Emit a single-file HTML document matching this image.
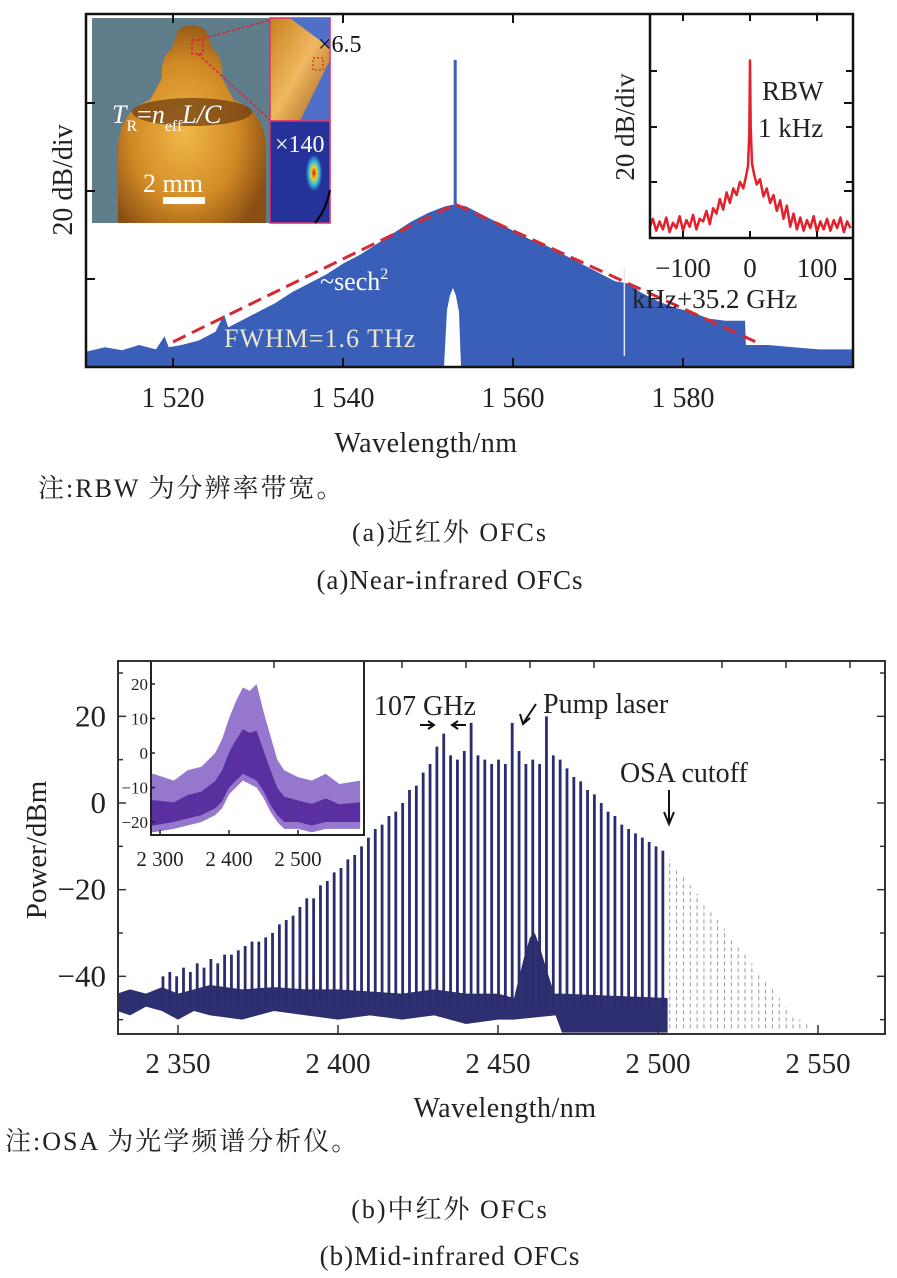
<!DOCTYPE html>
<html><head><meta charset="utf-8"><style>
html,body{margin:0;padding:0;background:#fff;}
svg{display:block;}
text{font-family:"Liberation Serif","Noto Serif CJK SC",serif;}
</style></head><body>
<svg id="fig" width="897" height="1278" viewBox="0 0 897 1278" xmlns="http://www.w3.org/2000/svg">
<defs>
<radialGradient id="gold" cx="0.45" cy="0.55" r="0.6"><stop offset="0" stop-color="#f2b84a"/><stop offset="0.6" stop-color="#d18a25"/><stop offset="1" stop-color="#8a4e14"/></radialGradient>
<radialGradient id="mode" cx="0.5" cy="0.5" r="0.5"><stop offset="0" stop-color="#d4141a"/><stop offset="0.35" stop-color="#f0d020"/><stop offset="0.65" stop-color="#30c0e0"/><stop offset="1" stop-color="#2a3aa0"/></radialGradient>
<linearGradient id="orng" x1="0" y1="0" x2="1" y2="1"><stop offset="0" stop-color="#c8801c"/><stop offset="0.5" stop-color="#f0b860"/><stop offset="1" stop-color="#9a5a18"/></linearGradient>
<clipPath id="topclip"><rect x="86" y="14" width="767" height="353"/></clipPath>
<clipPath id="botclip"><rect x="118" y="661" width="767" height="373"/></clipPath>
<clipPath id="inclip"><rect x="152" y="661" width="212" height="174"/></clipPath>
</defs>
<g id="top-chart"></g>
<g id="bot-chart"></g>
</svg>
<script>
// ---------- Top chart data ----------
const topXTicks = [1520, 1540, 1560, 1580];
const topXTickLabels = ["1 520", "1 540", "1 560", "1 580"];
const topYTicks = [20, 40, 60];
const specW = [1509.8,1512,1514,1516,1518,1519,1519.5,1521,1523,1525,1526,1526.5,1528,1530,1532,1534,1536,1538,1540,1542,1544,1546,1548,1550,1552,1553.2,1554.5,1556,1558,1560,1562,1564,1566,1568,1570,1572,1573.5,1575,1577,1579,1581,1583,1585,1587.3,1587.4,1590,1593,1596,1600.5];
const specDb = [3.5,4.5,3.8,5,4,7,4.5,5,6,8,12,9,10.5,12.5,14.5,17,19,21,23.5,25.5,28,30.5,33,35,36.5,37,36.5,35,33,31,29,27.5,25.5,23.5,21.5,19.5,19,17,15,13.5,12.5,11,10.5,10.5,5,5,4.5,4,4];
const spikeW = [1553.2];
const spikeDb = [69.8];
const fitW = [1520, 1553.2, 1588.8];
const fitDb = [5.7, 37, 5.5];
const insetXTicks = [-100, 0, 100];
const insetXTickLabels = ["\u2212100", "0", "100"];
const insetF = [-150,-145,-140,-135,-130,-125,-120,-115,-110,-105,-100,-95,-90,-85,-80,-75,-70,-65,-60,-55,-50,-45,-40,-35,-30,-25,-20,-15,-10,-6,-3,-1,0,1,3,6,10,15,20,25,30,35,40,45,50,55,60,65,70,75,80,85,90,95,100,105,110,115,120,125,130,135,140,145,150];
const insetDb = [3,10,1,8,2,11,0,7,3,12,1,9,4,13,2,10,8,16,6,18,14,25,17,30,22,33,28,38,33,42,50,75,130,80,52,44,36,40,27,33,22,28,16,24,10,20,4,14,2,11,1,9,3,12,0,8,2,10,1,9,3,11,0,8,3];

// ---------- Bottom chart data ----------
const botXTicks = [2350, 2400, 2450, 2500, 2550];
const botXTickLabels = ["2 350", "2 400", "2 450", "2 500", "2 550"];
const botYTicks = [20, 0, -20, -40];
const botYTickLabels = ["20", "0", "\u221220", "\u221240"];
const combStart = 2345.3;
const combSpacing = 2.14;
const combPeaks = [-40,-39,-40,-38,-39,-37,-38,-36,-37,-35,
 -35,-34,-33,-32,-32,-31,-30,-28,-27,-26,
 -24,-22,-22,-19,-18,-16,-15,-13,-12,-10,
 -8,-6,-5,-3,-2,0,3,4,7,9,
 13,16,11,10,12,18.5,11,10,9,10,
 9,18.5,12,9,10,9,20,11,10,8,
 6,5,3,2,0,-2,-3,-5,-6,-7,
 -8,-9,-10,-11];
const extraPeaks = [-13,-15,-17,-19,-21,-23,-25,-27,-29,-31,-33,-35,-37,-39,-41,-43,-45,-47,-49,-50,-51,-52,-52,-52];
const floorW = [2331,2335,2340,2345,2350,2355,2360,2370,2380,2390,2400,2410,2420,2430,2440,2450,2455,2468,2470,2503];
const floorTop = [-44,-43,-44,-42.5,-44,-43,-42,-43,-42.5,-43,-43,-43.5,-44,-43,-44,-44,-45,-44,-44,-45];
const floorBot = [-48,-49,-47,-48,-50,-48,-49,-50,-48,-49,-50,-49,-50,-49,-51,-50,-50,-49,-53,-53];
const pedW = [2455,2458,2460,2461.5,2463,2465,2468];
const pedDb = [-45,-36,-31,-30,-33,-38,-45];
const inXTicks = [2300, 2400, 2500];
const inXTickLabels = ["2 300", "2 400", "2 500"];
const inYTicks = [20, 10, 0, -10, -20];
const inYTickLabels = ["20", "10", "0", "\u221210", "\u221220"];
const inW = [2230,2260,2290,2320,2340,2360,2380,2390,2400,2410,2420,2430,2440,2450,2460,2470,2480,2500,2520,2540,2560,2590];
const inUpper = [-7,-9,-6,-8,-5,-4,0,4,10,15,19,18,20,12,5,-2,-5,-7,-8,-6,-9,-8];
const inLower = [-22,-22,-23,-22,-21,-20,-18,-16,-12,-10,-8,-9,-10,-13,-17,-20,-22,-22,-23,-22,-22,-22];

const NS = "http://www.w3.org/2000/svg";
const SERIF = '"Liberation Serif", "Noto Serif CJK SC", serif';
function mk(parent, tag, attrs) {
  const e = document.createElementNS(NS, tag);
  for (const k in attrs) e.setAttribute(k, attrs[k]);
  parent.appendChild(e);
  return e;
}
function txt(parent, x, y, s, size, extra) {
  const t = mk(parent, "text", Object.assign({x: x, y: y, "font-size": size, fill: "#222", "font-family": SERIF}, extra || {}));
  t.textContent = s;
  return t;
}

// ===== TOP =====
const T = document.getElementById("top-chart");
const tx = w => 173 + (w - 1520) * 8.5;
const ty = d => 367 - d * 4.4;
const ix = f => 750 + f * 0.67;
const iy = d => 232 - d * 1.32;

const plotT = mk(T, "g", {"clip-path": "url(#topclip)"});


let pts = specW.map((w, i) => tx(w) + "," + ty(specDb[i])).join(" ");
pts += " " + tx(1600.5) + ",367 " + tx(1509.8) + ",367";
const spec = mk(plotT, "polygon", {points: pts, fill: "#3a5fb8"});


spikeW.forEach((w, i) => {
  const s = mk(plotT, "line", {x1: tx(w), x2: tx(w), y1: ty(specDb[25]), y2: ty(spikeDb[i]), stroke: "#3a5fb8", "stroke-width": 3});
  
  
});
const wp = mk(plotT, "polygon", {points: "444,367 447,310 450,295 453,288 456,296 459,312 461,367", fill: "#fff"});


const wl = mk(plotT, "line", {x1: tx(1573.1), x2: tx(1573.1), y1: 268, y2: 356, stroke: "#dfe6f5", "stroke-width": 1.5});


const fit = mk(plotT, "polyline", {points: fitW.map((w, i) => tx(w) + "," + ty(fitDb[i])).join(" "), fill: "none", stroke: "#d42a35", "stroke-width": 3, "stroke-dasharray": "14,7"});


const l1 = txt(plotT, 320, 290, "", 26, {fill: "#fff"});


l1.innerHTML = '~sech<tspan font-size="16" dy="-11">2</tspan>';
const l2 = txt(plotT, 224, 347, "FWHM=1.6 THz", 26, {fill: "#ece7cf", "letter-spacing": "1"});



// photo inset
const ph = mk(T, "g", {});


mk(ph, "rect", {x: 92, y: 18, width: 178, height: 205, fill: "#5f7d8a"});
mk(ph, "path", {d: "M118,223 L118,150 Q118,112 150,100 L162,78 Q160,58 172,48 L178,30 Q192,20 206,30 L212,48 Q224,58 222,78 L234,100 Q266,112 266,150 L266,223 Z", fill: "url(#gold)"});
mk(ph, "ellipse", {cx: 192, cy: 112, rx: 60, ry: 14, fill: "#6b3a10", opacity: 0.7});
mk(ph, "rect", {x: 192, y: 40, width: 11, height: 14, fill: "none", stroke: "#e0203a", "stroke-width": 1.5, "stroke-dasharray": "3,2"});
mk(ph, "line", {x1: 198, y1: 40, x2: 270, y2: 20, stroke: "#e0203a", "stroke-width": 1.5, "stroke-dasharray": "3,2"});
mk(ph, "line", {x1: 198, y1: 54, x2: 270, y2: 120, stroke: "#e0203a", "stroke-width": 1.5, "stroke-dasharray": "3,2"});
const tr = txt(ph, 112, 123, "", 26, {fill: "#fff", "font-style": "italic"});


tr.innerHTML = 'T<tspan font-size="16" dy="8" font-style="normal">R</tspan><tspan dy="-8" font-style="normal">=</tspan>n<tspan font-size="16" dy="8" font-style="normal">eff</tspan><tspan dy="-8">L/C</tspan>';
const sm = txt(ph, 143, 192, "2 mm", 26, {fill: "#fff"});


mk(ph, "rect", {x: 163, y: 197, width: 42, height: 7, fill: "#fff"});
// subpanels
const sp1 = mk(T, "g", {});


mk(sp1, "rect", {x: 270, y: 18, width: 60, height: 103, fill: "url(#orng)", stroke: "#e0306a", "stroke-width": 1.5});
mk(sp1, "polygon", {points: "330,60 330,121 300,121", fill: "#4f6fc8"});
mk(sp1, "polygon", {points: "290,18 330,18 330,48", fill: "#4f6fc8"});
mk(sp1, "rect", {x: 313, y: 58, width: 10, height: 12, fill: "none", stroke: "#e0203a", "stroke-width": 1.2, "stroke-dasharray": "2,2"});
const x65 = txt(T, 318, 52, "\u00d76.5", 24, {fill: "#111"});


const sp2 = mk(T, "g", {});


mk(sp2, "rect", {x: 270, y: 121, width: 60, height: 102, fill: "#25329a", stroke: "#e0306a", "stroke-width": 1.5});
mk(sp2, "ellipse", {cx: 314, cy: 173, rx: 8, ry: 18, fill: "url(#mode)"});
mk(sp2, "path", {d: "M330,190 Q326,210 315,223", fill: "none", stroke: "#000", "stroke-width": 2});
const x140 = txt(T, 275, 152, "\u00d7140", 24, {fill: "#fff"});



// RBW inset
const RI = mk(T, "g", {});


mk(RI, "rect", {x: 650, y: 14, width: 203, height: 224, fill: "#fff"});
const red = mk(RI, "polyline", {points: insetF.map((f, i) => ix(f) + "," + iy(insetDb[i])).join(" "), fill: "none", stroke: "#e3202c", "stroke-width": 2.5, "stroke-linejoin": "round"});


mk(RI, "polyline", {points: "650,14 650,238 853,238", fill: "none", stroke: "#111", "stroke-width": 2.5});
insetXTicks.forEach((f, i) => {
  mk(RI, "line", {x1: ix(f), x2: ix(f), y1: 238, y2: 231, stroke: "#111", "stroke-width": 2});
  mk(RI, "line", {x1: ix(f), x2: ix(f), y1: 14, y2: 21, stroke: "#111", "stroke-width": 2});
  const t = txt(RI, ix(f), 277, insetXTickLabels[i], 27, {"text-anchor": "middle"});
  
  
});
[71, 127, 182].forEach(y => {
  mk(RI, "line", {x1: 650, x2: 657, y1: y, y2: y, stroke: "#111", "stroke-width": 2});
  mk(RI, "line", {x1: 853, x2: 846, y1: y, y2: y, stroke: "#111", "stroke-width": 2});
});
const iyl = txt(RI, 0, 0, "20 dB/div", 27, {transform: "translate(634,127) rotate(-90)", "text-anchor": "middle"});


const rb = txt(RI, 762, 100, "RBW", 27, {});


const rb2 = txt(RI, 758, 137, "1 kHz", 27, {});


const ixl = txt(RI, 632, 308, "kHz+35.2 GHz", 27, {});



// top frame/axes
const fr = mk(T, "rect", {x: 86, y: 14, width: 767, height: 353, fill: "none", stroke: "#111", "stroke-width": 2.5});


topXTicks.forEach((w, i) => {
  mk(T, "line", {x1: tx(w), x2: tx(w), y1: 367, y2: 358, stroke: "#111", "stroke-width": 2});
  if (tx(w) < 640) mk(T, "line", {x1: tx(w), x2: tx(w), y1: 14, y2: 23, stroke: "#111", "stroke-width": 2});
  const t = txt(T, tx(w), 407, topXTickLabels[i], 28, {"text-anchor": "middle"});
  
  
});
topYTicks.forEach(d => {
  mk(T, "line", {x1: 86, x2: 95, y1: ty(d), y2: ty(d), stroke: "#111", "stroke-width": 2});
  mk(T, "line", {x1: 853, x2: 844, y1: ty(d), y2: ty(d), stroke: "#111", "stroke-width": 2});
});
const tyt = txt(T, 0, 0, "20 dB/div", 28, {transform: "translate(72,180) rotate(-90)", "text-anchor": "middle"});


const txt1 = txt(T, 426, 452, "Wavelength/nm", 28, {"text-anchor": "middle", "letter-spacing": "0.5"});


const n1 = txt(T, 38, 497, "注:RBW 为分辨率带宽。", 26, {"letter-spacing": "2"});


const c1 = txt(T, 450, 541, "(a)近红外 OFCs", 26, {"text-anchor": "middle", "letter-spacing": "2"});


const c2 = txt(T, 450, 589, "(a)Near-infrared OFCs", 27, {"text-anchor": "middle", "letter-spacing": "1"});



// ===== BOTTOM =====
const B = document.getElementById("bot-chart");
const bx = w => 178 + (w - 2350) * 3.2;
const by = d => 803 - d * 4.333;
const plotB = mk(B, "g", {"clip-path": "url(#botclip)"});


let fp = floorW.map((w, i) => bx(w) + "," + by(floorTop[i])).join(" ") + " " +
  floorW.slice().reverse().map((w, i) => bx(w) + "," + by(floorBot[floorW.length - 1 - i])).join(" ");
const fl = mk(plotB, "polygon", {points: fp, fill: "#2e2f70"});


const pd = mk(plotB, "polygon", {points: pedW.map((w, i) => bx(w) + "," + by(pedDb[i])).join(" "), fill: "#2e2f70"});


combPeaks.forEach((p, k) => {
  const w = combStart + k * combSpacing;
  const l = mk(plotB, "line", {x1: bx(w), x2: bx(w), y1: by(-47), y2: by(p), stroke: "#2b2c6e", "stroke-width": 2.8});
  
  
});
extraPeaks.forEach((p, k) => {
  const w = combStart + (combPeaks.length + k) * combSpacing;
  const l = mk(plotB, "line", {x1: bx(w), x2: bx(w), y1: by(-52), y2: by(p), stroke: "#9a9a9a", "stroke-width": 1, "stroke-dasharray": "4,3"});
  
  
});
// inset
const IN = mk(B, "g", {});


const inx = w => 160 + (w - 2300) * 0.69;
const iny = d => 753 - d * 3.45;
mk(IN, "rect", {x: 119, y: 662, width: 245, height: 173, fill: "#fff"});
const INP = mk(IN, "g", {"clip-path": "url(#inclip)"});
let ip = inW.map((w, i) => inx(w) + "," + iny(inUpper[i])).join(" ") + " " +
  inW.slice().reverse().map((w, i) => inx(w) + "," + iny(inLower[inW.length - 1 - i])).join(" ");
const ia = mk(INP, "polygon", {points: ip, fill: "#8a68c8", opacity: 0.9});


let ip2 = inW.map((w, i) => inx(w) + "," + iny((inUpper[i] * 0.55 + inLower[i] * 0.45))).join(" ") + " " +
  inW.slice().reverse().map((w, i) => inx(w) + "," + iny(inLower[inW.length - 1 - i] + 2)).join(" ");
const ib = mk(INP, "polygon", {points: ip2, fill: "#5a2fa0"});


mk(IN, "polyline", {points: "151,661 151,835 364,835 364,661", fill: "none", stroke: "#222", "stroke-width": 2});
inYTicks.forEach((d, i) => {
  mk(IN, "line", {x1: 151, x2: 155, y1: iny(d), y2: iny(d), stroke: "#222", "stroke-width": 1.5});
  const t = txt(IN, 148, iny(d) + 6, inYTickLabels[i], 17, {"text-anchor": "end"});
  
  
});
inXTicks.forEach((w, i) => {
  mk(IN, "line", {x1: inx(w), x2: inx(w), y1: 835, y2: 830, stroke: "#222", "stroke-width": 1.5});
  const t = txt(IN, inx(w), 866, inXTickLabels[i], 21, {"text-anchor": "middle"});
  
  
});
// frame
const fb = mk(B, "rect", {x: 118, y: 661, width: 767, height: 373, fill: "none", stroke: "#333", "stroke-width": 2});


botXTicks.forEach((w, i) => {
  mk(B, "line", {x1: bx(w), x2: bx(w), y1: 1034, y2: 1025, stroke: "#333", "stroke-width": 1.5});
  const t = txt(B, bx(w), 1073, botXTickLabels[i], 29, {"text-anchor": "middle"});
  
  
});
[2380, 2420, 2440, 2460, 2480, 2520, 2540, 2560].forEach(w => {
  mk(B, "line", {x1: bx(w), x2: bx(w), y1: 661, y2: 668, stroke: "#333", "stroke-width": 1.5});
});
[30, 20, 10, 0, -10, -20, -30, -40, -50].forEach(d => {
  const len = d % 20 === 0 ? 8 : 5;
  mk(B, "line", {x1: 118, x2: 118 + len, y1: by(d), y2: by(d), stroke: "#333", "stroke-width": 1.5});
  mk(B, "line", {x1: 885, x2: 885 - len, y1: by(d), y2: by(d), stroke: "#333", "stroke-width": 1.5});
});
botYTicks.forEach((d, i) => {
  const t = txt(B, 106, by(d) + 10, botYTickLabels[i], 31, {"text-anchor": "end"});
  
  
});
const byt = txt(B, 0, 0, "Power/dBm", 29, {transform: "translate(46,850) rotate(-90)", "text-anchor": "middle"});


const bxt = txt(B, 505, 1117, "Wavelength/nm", 28, {"text-anchor": "middle", "letter-spacing": "0.5"});


// annotations
const g107 = txt(B, 374, 715, "107 GHz", 28, {});


mk(B, "path", {d: "M420,725 L433,725 M428,721 L434,725 L428,729 M466,725 L453,725 M458,721 L452,725 L458,729", stroke: "#111", "stroke-width": 2, fill: "none"});
const pl = txt(B, 543, 713, "Pump laser", 28, {});


mk(B, "path", {d: "M536,704 L524,722 M520,714 L523,724 L530,718", stroke: "#111", "stroke-width": 2, fill: "none"});
const osa = txt(B, 620, 782, "OSA cutoff", 28, {});


mk(B, "path", {d: "M669,790 L669,822 M664,812 L669,824 L674,812", stroke: "#111", "stroke-width": 2, fill: "none"});
const n2 = txt(B, 5, 1150, "注:OSA 为光学频谱分析仪。", 26, {"letter-spacing": "2"});


const c3 = txt(B, 450, 1218, "(b)中红外 OFCs", 26, {"text-anchor": "middle", "letter-spacing": "2"});


const c4 = txt(B, 450, 1265, "(b)Mid-infrared OFCs", 27, {"text-anchor": "middle", "letter-spacing": "1"});


</script>
</body></html>
